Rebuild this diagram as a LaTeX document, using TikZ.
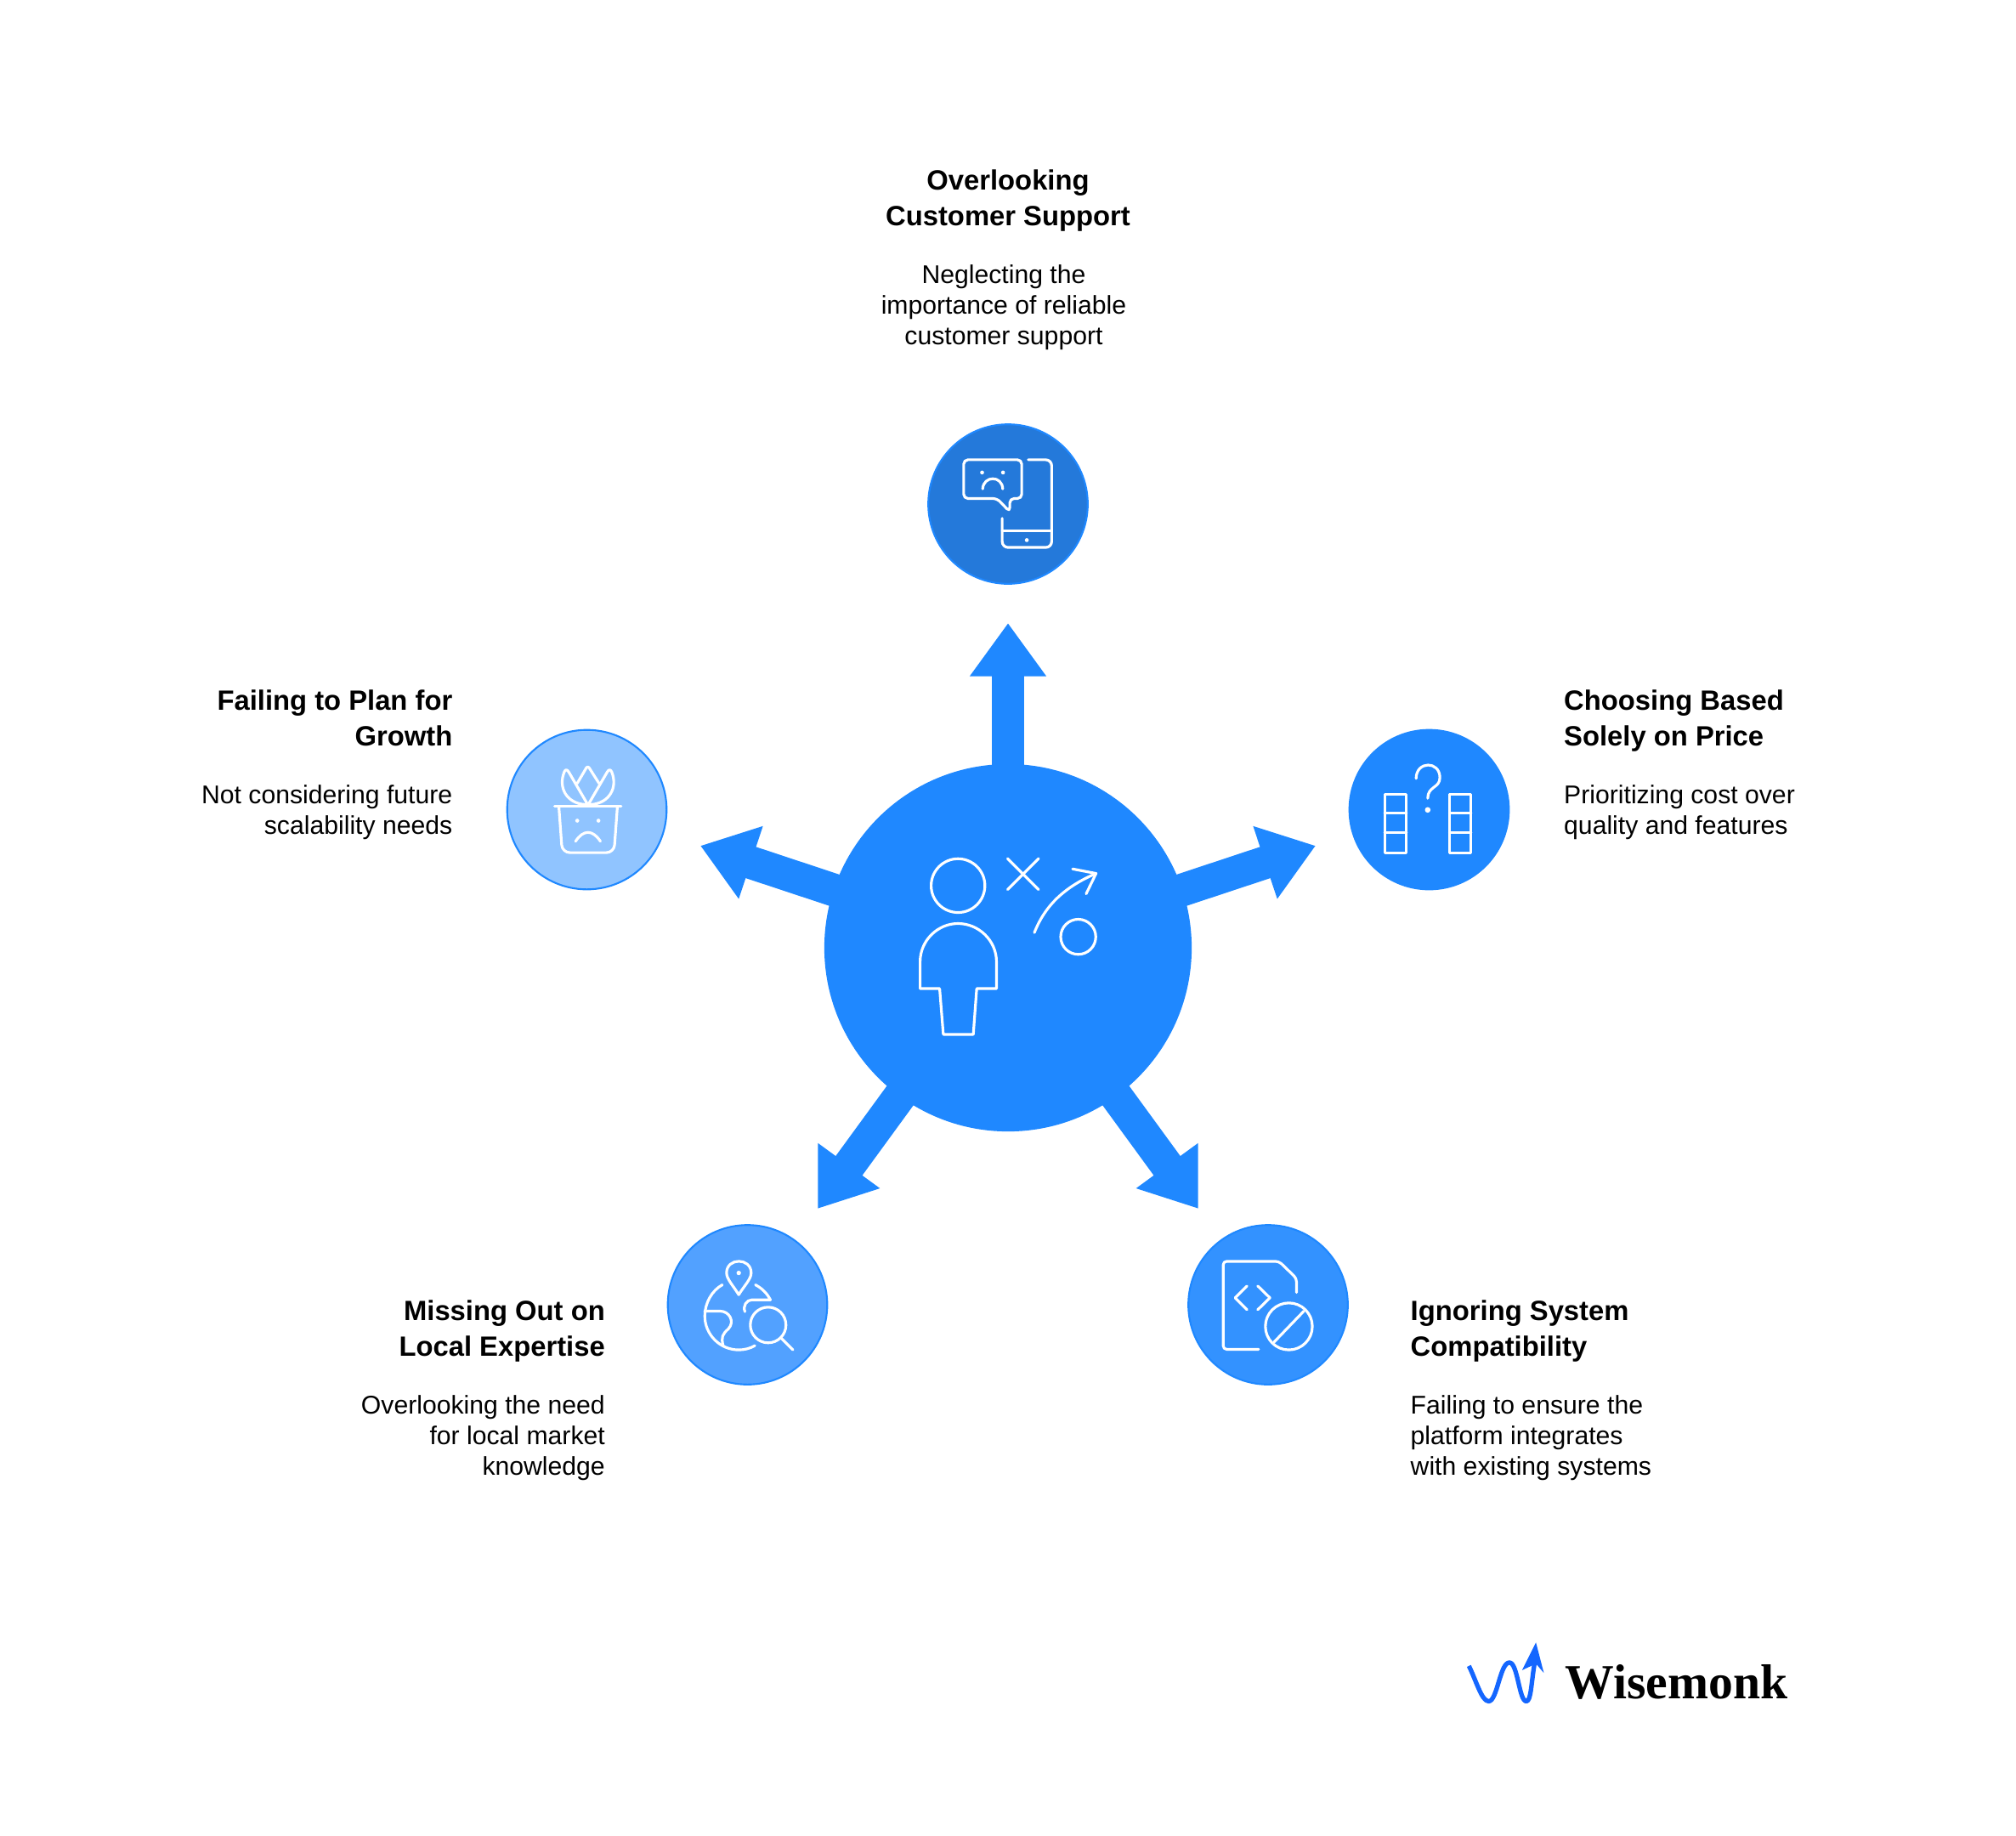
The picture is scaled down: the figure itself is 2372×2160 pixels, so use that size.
\documentclass[tikz,border=0pt]{standalone}
\usepackage{fontspec}
\setmainfont{Liberation Sans}
\newfontfamily\logofont{Liberation Serif}
\usetikzlibrary{positioning}
\usetikzlibrary{arrows.meta}

\definecolor{mainblue}{HTML}{1F88FF}
\definecolor{topblue}{HTML}{2479DA}
\definecolor{lowrightblue}{HTML}{3392FF}
\definecolor{lowleftblue}{HTML}{52A1FF}
\definecolor{leftblue}{HTML}{90C4FF}
\definecolor{logoblue}{HTML}{1466FF}

\tikzset{
  hubcircle/.style={circle,fill=mainblue,minimum size=4.32cm,inner sep=0},
  iconcircle/.style={circle,draw=mainblue,line width=0.6pt,minimum size=1.875cm,inner sep=0},
  blockarrow/.style={draw=mainblue,line width=11pt,-{Triangle[width=24.4pt,length=17.8pt,fill=mainblue]}},
  iconline/.style={white,line width=0.9pt,line cap=round,line join=round},
  titletext/.style={font=\fontsize{9.32pt}{11.83pt}\selectfont\bfseries,inner sep=0,
    execute at begin node=\strut,execute at end node=\strut},
  desctext/.style={font=\fontsize{8.58pt}{10.24pt}\selectfont,inner sep=0,
    execute at begin node=\strut,execute at end node=\strut},
}

\begin{document}
\begin{tikzpicture}[x=0.01cm,y=-0.01cm]
 \useasboundingbox (0,0) rectangle (2372,2160);

 \node[hubcircle] (hub) at (1186,1115) {};
 \coordinate (tipTop) at (1186,733);
 \coordinate (tipRight) at (1548,995);
 \coordinate (tipLowRight) at (1410,1422);
 \coordinate (tipLowLeft) at (962,1422);
 \coordinate (tipLeft) at (824,995);
 \foreach \tip in {tipTop,tipRight,tipLowRight,tipLowLeft,tipLeft}
   \draw[blockarrow] (hub.center) -- (\tip);

 \node[iconcircle,fill=topblue] (iconTop) at (1186,593) {};
 \node[iconcircle,fill=mainblue] (iconRight) at (1681.5,952.5) {};
 \node[iconcircle,fill=lowrightblue] (iconLowRight) at (1492,1535) {};
 \node[iconcircle,fill=lowleftblue] (iconLowLeft) at (879.5,1535) {};
 \node[iconcircle,fill=leftblue] (iconLeft) at (690.5,952.5) {};

 % hub picture
 \begin{scope}[shift={(1040,980)},x=0.00333cm,y=-0.00333cm,iconline]
  \draw (262,186) circle (95);
  \draw (128,550) -- (128,455) .. controls (128,380) and (190,320) .. (262,320)
     .. controls (335,320) and (398,380) .. (398,455) -- (398,550) -- (328,550)
     -- (316,712) -- (210,712) -- (197,550) -- cycle;
  \draw (437,90) -- (547,200);
  \draw (547,90) -- (437,200);
  \draw (532,352) .. controls (570,255) and (640,190) .. (750,143);
  \draw (667,127) -- (750,143) -- (715,215);
  \draw (687,367) circle (62);
 \end{scope}

 % phone
 \begin{scope}[shift={(1060,480)},x=0.00333cm,y=-0.00333cm,iconline]
  \draw[rounded corners=0.5mm] (340,320) -- (222,320) -- (222,183) -- (427,183) -- (427,320) -- (385,320) -- (385,367) -- cycle;
  \draw[rounded corners=0.7mm] (450,183) -- (533,183) -- (533,493) -- (358,493) -- (358,390);
  \draw (358,435) -- (533,435);
  \fill[white] (445,467) circle (7) (287,228) circle (7) (361,228) circle (7);
  \draw (289,286) .. controls (292,238) and (358,238) .. (360,286);
 \end{scope}

 % columns
 \begin{scope}[shift={(1570,840)},x=0.00333cm,y=-0.00333cm,iconline]
  \foreach \xa/\xb in {178/255,407/483} {
    \draw (\xa,285) rectangle (\xb,490);
    \draw (\xa,350) -- (\xb,350);
    \draw (\xa,420) -- (\xb,420);
  }
  \draw (289,228) .. controls (289,165) and (373,165) .. (373,225)
     .. controls (373,262) and (330,255) .. (330,298);
  \fill[white] (330,339) circle (10);
 \end{scope}

 % document
 \begin{scope}[shift={(1380,1430)},x=0.00333cm,y=-0.00333cm,iconline]
  \draw[rounded corners=0.4mm] (303,473) -- (178,473) -- (178,162) -- (375,162) -- (437,222) -- (437,272);
  \draw (262,249) -- (220,291) -- (262,333);
  \draw (300,249) -- (343,291) -- (300,333);
  \draw (410,392) circle (83);
  \draw (358,447) -- (463,338);
 \end{scope}

 % globe
 \begin{scope}[shift={(770,1430)},x=0.00333cm,y=-0.00333cm,iconline]
  \draw (298,280) .. controls (280,250) and (255,225) .. (255,203)
     .. controls (255,148) and (342,148) .. (342,203)
     .. controls (342,225) and (316,250) .. (298,280) -- cycle;
  \fill[white] (298,203) circle (8);
  \draw (240,245) .. controls (203,265) and (178,310) .. (178,355)
     .. controls (178,421) and (232,475) .. (298,475)
     .. controls (318,475) and (338,470) .. (355,460);
  \draw (357,245) .. controls (380,257) and (398,275) .. (410,298) -- (345,298)
     .. controls (325,298) and (312,320) .. (320,340);
  \draw (178,338) -- (232,338) .. controls (265,338) and (285,375) .. (262,400)
     .. controls (240,420) and (235,430) .. (243,460);
  \draw (402,387) circle (63);
  \draw (447,432) -- (490,475);
 \end{scope}

 % plant
 \begin{scope}[shift={(580,850)},x=0.00333cm,y=-0.00333cm,iconline]
  \draw (218,297) -- (453,297);
  \draw[rounded corners=0.9mm] (233,297) -- (245,460) -- (428,460) -- (440,297);
  \fill[white] (298,347) circle (7) (373,347) circle (7);
  \draw (292,420) .. controls (320,378) and (352,378) .. (380,420);
  \draw[rounded corners=0.3mm] (298,215) -- (335,152) -- (375,215);
  \draw (335,290) -- (268,175) .. controls (262,165) and (256,165) .. (252,175)
     .. controls (230,230) and (260,285) .. (325,290);
  \draw (337,290) -- (404,175) .. controls (410,165) and (416,165) .. (420,175)
     .. controls (442,230) and (412,285) .. (347,290);
 \end{scope}

 \node[titletext,align=center,anchor=north] (titleTop) at (1186,199.5) {Overlooking\\Customer Support};
 \node[desctext,align=center,below=0.325cm of titleTop,xshift=-0.05cm] (descTop) {Neglecting the\\importance of reliable\\customer support};

 \node[titletext,align=left,anchor=north west] (titleRight) at (1839.5,811) {Choosing Based\\Solely on Price};
 \node[desctext,align=left,below=0.325cm of titleRight.south west,anchor=north west] (descRight) {Prioritizing cost over\\quality and features};

 \node[titletext,align=left,anchor=north west] (titleLowRight) at (1659,1529) {Ignoring System\\Compatibility};
 \node[desctext,align=left,below=0.325cm of titleLowRight.south west,anchor=north west] (descLowRight) {Failing to ensure the\\platform integrates\\with existing systems};

 \node[titletext,align=right,anchor=north east] (titleLowLeft) at (712.5,1529) {Missing Out on\\Local Expertise};
 \node[desctext,align=right,below=0.325cm of titleLowLeft.south east,anchor=north east] (descLowLeft) {Overlooking the need\\for local market\\knowledge};

 \node[titletext,align=right,anchor=north east] (titleLeft) at (533,811) {Failing to Plan for\\Growth};
 \node[desctext,align=right,below=0.325cm of titleLeft.south east,anchor=north east] (descLeft) {Not considering future\\scalability needs};

 % logo
 \begin{scope}[shift={(1700,1900)},x=0.00333cm,y=-0.00333cm]
  \draw[logoblue,line width=1.5pt,line join=round] (85,180) .. controls (110,230) and (130,305) .. (155,305)
     .. controls (185,305) and (195,168) .. (228,168)
     .. controls (258,168) and (262,305) .. (288,305)
     .. controls (305,305) and (305,240) .. (318,165);
  \fill[logoblue] (322,97) -- (350,205) -- (322,172) -- (273,195) -- cycle;
 \end{scope}
 \node[font=\logofont\fontsize{16.4pt}{18pt}\selectfont\bfseries,inner sep=0,anchor=base west] (logoText) at (1841,1998) {Wisemonk};
\end{tikzpicture}
\end{document}
